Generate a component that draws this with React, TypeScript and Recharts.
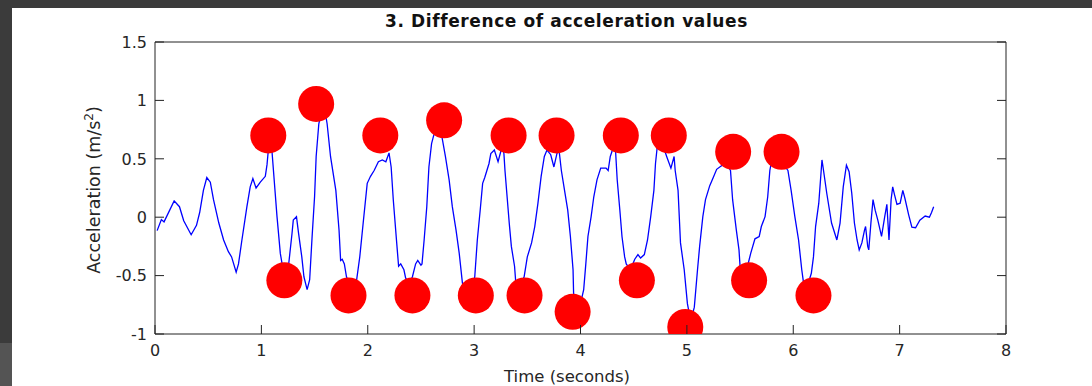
import React from 'react';
import { ComposedChart, Line, Scatter, XAxis, YAxis } from 'recharts';

const lineTime = [
  0.02, 0.06, 0.085, 0.18, 0.23, 0.27, 0.34, 0.39, 0.42, 0.455, 0.487, 0.52, 0.55, 0.6, 0.645, 0.69, 0.72, 0.763, 0.785, 0.817,
  0.864, 0.895, 0.92, 0.95, 0.99, 1.037, 1.053, 1.07, 1.09, 1.1, 1.13, 1.147, 1.178, 1.21, 1.24, 1.257, 1.288, 1.3, 1.33, 1.35,
  1.38, 1.4, 1.43, 1.454, 1.477, 1.5, 1.515, 1.54, 1.57, 1.6, 1.618, 1.65, 1.7, 1.73, 1.745, 1.76, 1.78, 1.8, 1.84, 1.87,
  1.895, 1.925, 1.957, 1.995, 2.026, 2.06, 2.1, 2.137, 2.17, 2.2, 2.22, 2.24, 2.27, 2.29, 2.31, 2.34, 2.356, 2.39, 2.42, 2.45,
  2.47, 2.5, 2.51, 2.53, 2.555, 2.575, 2.6, 2.62, 2.66, 2.7, 2.73, 2.765, 2.795, 2.83, 2.86, 2.89, 2.94, 2.98, 3.006, 3.03,
  3.057, 3.08, 3.1, 3.14, 3.157, 3.19, 3.225, 3.25, 3.265, 3.28, 3.29, 3.31, 3.33, 3.35, 3.38, 3.39, 3.43, 3.47, 3.5, 3.54,
  3.57, 3.6, 3.63, 3.66, 3.685, 3.72, 3.75, 3.765, 3.78, 3.8, 3.82, 3.85, 3.88, 3.905, 3.93, 3.935, 3.97, 4.0, 4.03, 4.05,
  4.07, 4.1, 4.125, 4.155, 4.19, 4.24, 4.26, 4.28, 4.295, 4.31, 4.33, 4.345, 4.37, 4.39, 4.415, 4.43, 4.47, 4.51, 4.54, 4.565,
  4.6, 4.63, 4.66, 4.69, 4.705, 4.72, 4.75, 4.78, 4.81, 4.85, 4.88, 4.89, 4.917, 4.94, 4.975, 5.005, 5.03, 5.05, 5.07, 5.1,
  5.12, 5.15, 5.175, 5.215, 5.25, 5.28, 5.325, 5.37, 5.41, 5.43, 5.465, 5.49, 5.5, 5.54, 5.57, 5.6, 5.64, 5.68, 5.7, 5.735,
  5.76, 5.78, 5.79, 5.84, 5.9, 5.95, 5.98, 6.015, 6.05, 6.08, 6.095, 6.13, 6.17, 6.19, 6.21, 6.24, 6.27, 6.28, 6.315, 6.36,
  6.41, 6.44, 6.47, 6.5, 6.525, 6.55, 6.575, 6.6, 6.62, 6.645, 6.67, 6.68, 6.7, 6.71, 6.73, 6.75, 6.77, 6.795, 6.83, 6.86,
  6.88, 6.9, 6.92, 6.935, 6.95, 6.975, 7.005, 7.03, 7.05, 7.085, 7.115, 7.15, 7.19, 7.24, 7.28, 7.3, 7.32,
];

const lineValue = [
  -0.115, -0.02, -0.04, 0.14, 0.09, -0.03, -0.15, -0.07, 0.04, 0.23, 0.34, 0.3, 0.15, -0.05, -0.195, -0.295, -0.34, -0.47, -0.4, -0.195,
  0.09, 0.26, 0.33, 0.25, 0.3, 0.35, 0.45, 0.62, 0.64, 0.56, 0.205, 0.005, -0.31, -0.48, -0.45, -0.4, -0.14, -0.025, 0.005, -0.14,
  -0.34, -0.51, -0.62, -0.535, -0.165, 0.175, 0.52, 0.8, 0.92, 0.9, 0.8, 0.52, 0.23, -0.11, -0.37, -0.36, -0.4, -0.51, -0.6, -0.58,
  -0.54, -0.34, -0.05, 0.29, 0.35, 0.4, 0.475, 0.49, 0.475, 0.55, 0.43, 0.15, -0.195, -0.42, -0.4, -0.45, -0.52, -0.57, -0.51, -0.4,
  -0.37, -0.41, -0.4, -0.195, 0.09, 0.43, 0.63, 0.7, 0.77, 0.675, 0.52, 0.32, 0.09, -0.11, -0.31, -0.565, -0.62, -0.6, -0.51, -0.195,
  0.06, 0.29, 0.34, 0.46, 0.545, 0.575, 0.475, 0.56, 0.62, 0.545, 0.4, 0.175, -0.05, -0.25, -0.42, -0.54, -0.6, -0.51, -0.34, -0.22,
  -0.08, 0.12, 0.35, 0.52, 0.575, 0.535, 0.43, 0.49, 0.55, 0.56, 0.4, 0.23, 0.06, -0.165, -0.45, -0.65, -0.76, -0.74, -0.62, -0.4,
  -0.165, 0.005, 0.175, 0.32, 0.42, 0.42, 0.4, 0.52, 0.56, 0.62, 0.56, 0.32, 0.06, -0.165, -0.34, -0.4, -0.45, -0.36, -0.32, -0.35,
  -0.32, -0.195, 0.005, 0.23, 0.46, 0.59, 0.65, 0.6, 0.52, 0.42, 0.52, 0.4, 0.23, -0.22, -0.45, -0.74, -0.86, -0.84, -0.77, -0.45,
  -0.25, 0.005, 0.15, 0.27, 0.345, 0.41, 0.44, 0.46, 0.4, 0.15, -0.11, -0.28, -0.42, -0.5, -0.42, -0.31, -0.185, -0.165, -0.08, 0.005,
  0.175, 0.4, 0.45, 0.47, 0.46, 0.4, 0.23, 0.005, -0.195, -0.45, -0.55, -0.6, -0.48, -0.34, -0.08, 0.12, 0.49, 0.43, 0.205, -0.05,
  -0.195, -0.05, 0.26, 0.445, 0.39, 0.205, -0.05, -0.195, -0.28, -0.22, -0.11, -0.08, -0.25, -0.28, -0.05, 0.15, 0.06, -0.025, -0.165, 0.005,
  0.11, -0.195, 0.15, 0.26, 0.2, 0.11, 0.12, 0.23, 0.16, 0.02, -0.085, -0.09, -0.025, 0.01, 0.0, 0.04, 0.09,
];

const peakTime = [1.065, 1.216, 1.515, 1.819, 2.118, 2.42, 2.718, 3.016, 3.324, 3.474, 3.775, 3.926, 4.379, 4.53, 4.83, 4.985, 5.435, 5.585, 5.89, 6.19];
const peakValue = [0.7, -0.54, 0.97, -0.67, 0.7, -0.67, 0.83, -0.67, 0.7, -0.67, 0.7, -0.81, 0.7, -0.54, 0.7, -0.94, 0.56, -0.54, 0.56, -0.67];

const xTicks = [0, 1, 2, 3, 4, 5, 6, 7, 8];
const yTicks = [-1, -0.5, 0, 0.5, 1, 1.5];

const titleText = '3. Difference of acceleration values';
const xLabelText = 'Time (seconds)';

const lineData = lineTime.map((t, i) => ({ t, v: lineValue[i] }));
const peakData = peakTime.map((t, i) => ({ t, v: peakValue[i] }));

const AX = '#222';
const TL = 9;
const FONT = "'DejaVu Sans', sans-serif";

const BottomTick = (p: any) => {
  const { x, y, payload } = p;
  const M = 11;
  return (
    <g>
      <line x1={x} x2={x} y1={y - M} y2={y - M - TL} stroke={AX} strokeWidth={1} />
      <text x={x} y={y} dy="0.71em" textAnchor="middle" fontFamily={FONT} fontSize={16} fill="#262626">
        {String(payload.value)}
      </text>
    </g>
  );
};

const TopTick = (p: any) => {
  const { x, y } = p;
  return <line x1={x} x2={x} y1={y} y2={y + TL} stroke={AX} strokeWidth={1} />;
};

const LeftTick = (p: any) => {
  const { x, y, payload } = p;
  const M = 8;
  return (
    <g>
      <line x1={x + M} x2={x + M + TL} y1={y} y2={y} stroke={AX} strokeWidth={1} />
      <text x={x} y={y} dy="0.36em" textAnchor="end" fontFamily={FONT} fontSize={16} fill="#262626">
        {String(payload.value)}
      </text>
    </g>
  );
};

const RightTick = (p: any) => {
  const { x, y } = p;
  return <line x1={x} x2={x - TL} y1={y} y2={y} stroke={AX} strokeWidth={1} />;
};

const Dot = (p: any) => <circle cx={p.cx} cy={p.cy} r={18} fill="#ff0000" />;

export default function App() {
  return (
    <div style={{ position: 'fixed', left: 0, top: 0, width: 1092, height: 386, background: '#3b3b3b', overflow: 'hidden' }}>
      <div style={{ position: 'absolute', left: 0, top: 343, width: 12, height: 43, background: '#545454' }} />
      <div style={{ position: 'absolute', left: 12, top: 8, width: 1080, height: 378, background: '#ffffff' }} />
      <div style={{ position: 'absolute', left: 0, top: 0 }}>
        <ComposedChart width={1092} height={386} margin={{ top: 0, right: 0, bottom: 0, left: 0 }}>
          <XAxis
            xAxisId="b"
            type="number"
            dataKey="t"
            domain={[0, 8]}
            ticks={xTicks}
            interval={0}
            height={52}
            tickSize={0}
            tickMargin={11}
            tickLine={false}
            axisLine={{ stroke: AX }}
            tick={<BottomTick />}
            allowDataOverflow
          />
          <XAxis
            xAxisId="tp"
            orientation="top"
            type="number"
            domain={[0, 8]}
            ticks={xTicks}
            interval={0}
            height={42}
            tickSize={0}
            tickMargin={0}
            tickLine={false}
            axisLine={{ stroke: AX }}
            tick={<TopTick />}
            allowDataOverflow
          />
          <YAxis
            yAxisId="l"
            type="number"
            domain={[-1, 1.5]}
            ticks={yTicks}
            interval={0}
            width={155}
            tickSize={0}
            tickMargin={8}
            tickLine={false}
            axisLine={{ stroke: AX }}
            tick={<LeftTick />}
            allowDataOverflow
          />
          <YAxis
            yAxisId="r"
            orientation="right"
            type="number"
            domain={[-1, 1.5]}
            ticks={yTicks}
            interval={0}
            width={86}
            tickSize={0}
            tickMargin={0}
            tickLine={false}
            axisLine={{ stroke: AX }}
            tick={<RightTick />}
            allowDataOverflow
          />
          <Line
            xAxisId="b"
            yAxisId="l"
            data={lineData}
            dataKey="v"
            type="linear"
            stroke="#0000ff"
            strokeWidth={1.3}
            dot={false}
            activeDot={false}
            isAnimationActive={false}
          />
          <Scatter
            xAxisId="b"
            yAxisId="l"
            data={peakData}
            dataKey="v"
            shape={<Dot />}
            isAnimationActive={false}
          />
        </ComposedChart>
      </div>
      <svg width={1092} height={386} style={{ position: 'absolute', left: 0, top: 0, pointerEvents: 'none' }}>
        <text x={566.5} y={26.5} textAnchor="middle" fontFamily={FONT} fontWeight="bold" fontSize={17} letterSpacing={0.6} fill="#111">
          {titleText}
        </text>
        <text x={567} y={382} textAnchor="middle" fontFamily={FONT} fontSize={16.5} fill="#262626">
          {xLabelText}
        </text>
        <text transform="translate(100,190) rotate(-90)" textAnchor="middle" fontFamily={FONT} fontSize={17.5} fill="#262626">
          Acceleration (m/s<tspan dy={-7} fontSize={12}>2</tspan><tspan dy={7}>)</tspan>
        </text>
      </svg>
    </div>
  );
}
